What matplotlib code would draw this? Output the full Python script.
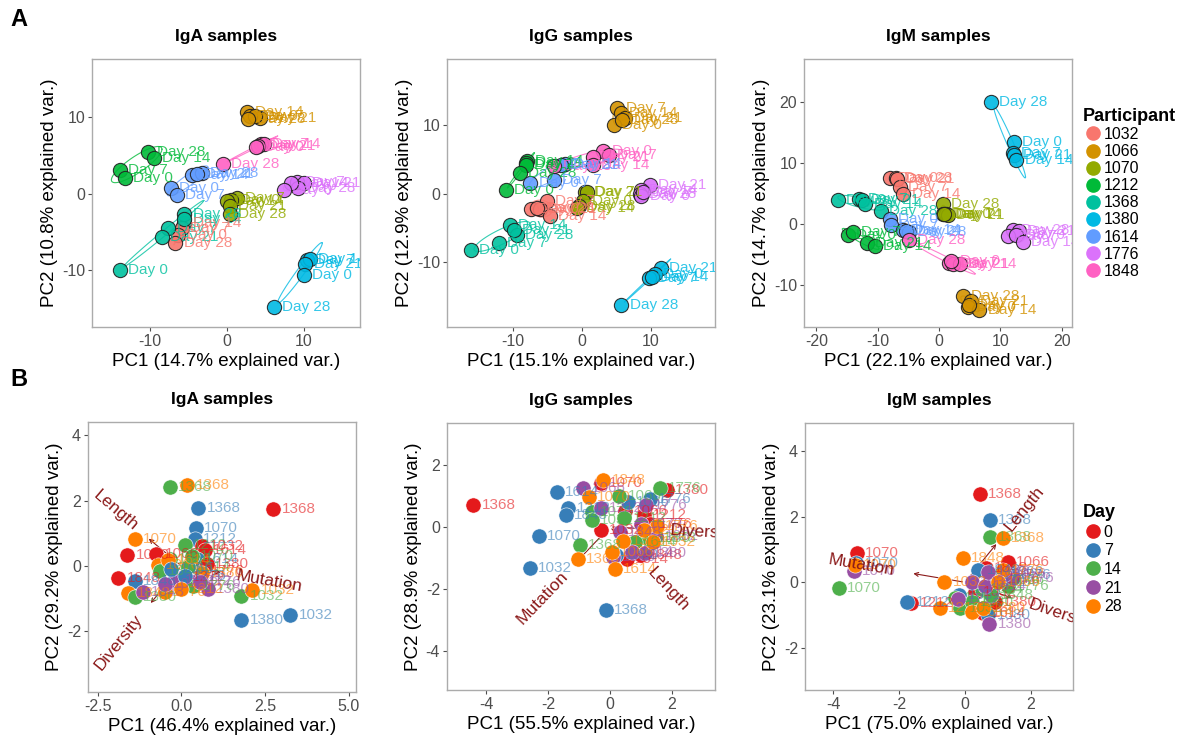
import numpy as np
import matplotlib
matplotlib.use("Agg")
import matplotlib.pyplot as plt
from matplotlib.lines import Line2D

plt.rcParams['font.family'] = ['Liberation Sans', 'DejaVu Sans']
plt.rcParams['axes.unicode_minus'] = False

participants = ['1032', '1066', '1070', '1212', '1368', '1380', '1614', '1776', '1848']
part_colors = ['#F8766D', '#D39200', '#93AA00', '#00BA38', '#00C19F',
               '#00B9E3', '#619CFF', '#DB72FB', '#FF61C3']
days = [0, 7, 14, 21, 28]
day_colors = ['#E41A1C', '#377EB8', '#4DAF4A', '#984EA3', '#FF7F00']

# ---- A: PCA of repertoire samples, coloured by participant ----
iga_part = ['1212'] * 4 + ['1066'] * 5 + ['1848'] * 5 + ['1614'] * 5 + ['1776'] * 5 + \
           ['1070'] * 5 + ['1368'] * 5 + ['1032'] * 4 + ['1380'] * 5
iga_day = [28, 14, 7, 0,  14, 21, 0, 7, 28,  28, 7, 14, 21, 0,  14, 28, 21, 0, 7,
           7, 21, 28, 14, 0,  7, 0, 14, 21, 28,  28, 14, 7, 21, 0,  14, 7, 0, 28,
           7, 14, 21, 0, 28]
iga_pc1 = [-10.2, -9.5, -13.9, -13.2,  2.6, 4.3, 3.0, 3.7, 2.8,  -0.5, 4.4, 4.8, 4.1, 3.8,
           -4.5, -3.2, -3.9, -7.3, -6.5,  9.1, 10.0, 9.3, 8.4, 7.4,  1.3, 0.6, 0.0, 0.4, 0.4,
           -5.5, -5.5, -7.6, -8.4, -13.9,  -5.5, -5.8, -6.3, -6.7,  10.4, 10.8, 10.2, 10.0, 6.1]
iga_pc2 = [5.5, 4.65, 3.1, 2.0,  10.7, 9.9, 10.1, 10.1, 9.8,  3.9, 6.5, 6.5, 6.3, 6.1,
           2.5, 2.7, 2.6, 0.7, -0.1,  1.6, 1.4, 0.7, 1.4, 0.5,  -0.6, -0.8, -1.0, -1.65, -2.7,
           -2.65, -3.3, -4.5, -5.6, -9.9,  -3.8, -4.5, -5.35, -6.4,  -8.6, -8.5, -9.2, -10.6, -14.8]

igg_part = ['1066'] * 5 + ['1848'] * 5 + ['1212'] * 5 + ['1614'] * 4 + ['1070'] * 5 + \
           ['1776'] * 5 + ['1032'] * 5 + ['1368'] * 5 + ['1380'] * 5
igg_day = [7, 14, 21, 0, 28,  0, 7, 21, 14, 28,  14, 21, 7, 28, 0,  0, 7, 14, 21,
           21, 7, 0, 28, 14,  21, 14, 28, 0, 7,  7, 0, 21, 14, 28,  14, 28, 21, 7, 0,
           21, 0, 7, 14, 28]
igg_pc1 = [5.1, 5.6, 6.3, 4.6, 5.8,  3.1, 3.9, 1.6, 1.6, -4.0,  -8.0, -8.1, -8.2, -9.0, -11.1,
           -7.5, -4.1, -2.5, -3.0,  0.5, 0.7, 0.2, -0.5, -0.7,  9.8, 8.5, 8.4, 8.6, 8.9,
           -5.1, -7.4, -6.1, -4.7, -6.5,  -10.5, -9.5, -9.9, -12.1, -16.1,  11.4, 10.6, 9.7, 10.1, 5.7]
igg_pc2 = [12.5, 11.8, 11.0, 10.1, 10.8,  6.2, 5.6, 5.4, 4.2, 4.0,  4.8, 4.5, 4.2, 3.0, 0.6,
           1.6, 2.0, 4.3, 4.2,  0.2, 0.3, -1.1, -1.8, -2.1,  1.3, 0.6, -0.1, -0.4, 0.2,
           -1.0, -2.2, -2.3, -3.3, -2.1,  -4.6, -6.0, -5.3, -7.2, -8.2,  -10.9, -11.8, -12.4, -12.2, -16.3]

igm_part = ['1380'] * 5 + ['1032'] * 5 + ['1368'] * 5 + ['1070'] * 5 + ['1614'] * 5 + \
           ['1848'] * 5 + ['1212'] * 4 + ['1776'] * 5 + ['1066'] * 5
igm_day = [28, 0, 7, 21, 14,  0, 28, 21, 7, 14,  0, 7, 21, 14, 28,  28, 0, 7, 21, 14,
           0, 7, 14, 28, 21,  28, 7, 21, 14, 0,  0, 7, 21, 14,  28, 21, 7, 0, 14,
           28, 21, 0, 14, 7]
igm_pc1 = [8.5, 12.2, 12.1, 12.3, 12.6,  -8.0, -7.0, -6.8, -6.4, -5.8,  -16.5, -13.0, -12.5, -12.0, -9.5,
           0.65, 0.65, 1.2, 1.5, 0.9,  -8.0, -7.8, -5.8, -4.8, -5.3,  -4.9, 1.7, 2.3, 3.4, 2.0,
           -14.8, -14.0, -11.8, -10.5,  12.1, 13.0, 11.3, 12.6, 13.7,  3.9, 5.3, 4.7, 6.6, 4.9]
igm_pc2 = [20.0, 13.4, 11.7, 11.3, 10.5,  7.6, 7.5, 7.4, 6.0, 4.9,  3.9, 4.2, 3.9, 3.3, 2.2,
           3.3, 1.6, 1.6, 1.5, 1.7,  0.9, -0.1, -1.0, -1.2, -1.1,  -2.6, -6.4, -6.5, -6.5, -6.0,
           -1.7, -1.2, -3.1, -3.6,  -0.9, -1.1, -2.0, -1.7, -2.9,  -11.8, -12.6, -13.5, -14.0, -13.2]

# ---- B: biplots of repertoire features, coloured by day ----
b_iga_day = [14, 28, 7, 0, 7, 28, 7, 0, 0, 14, 0, 0, 7, 28, 14, 14, 0, 7, 28, 14, 21, 28,
             21, 14, 28, 7, 7, 0, 0, 21, 14, 28, 0, 28, 7, 21, 14, 7, 14, 28, 21, 21]
b_iga_part = ['1368', '1368', '1368', '1368', '1070', '1070', '1212', '1070', '1066', '1212',
              '1032', '1614', '1614', '1066', '1066', '1848', '1848', '1848', '1848', '1380',
              '1848', '1776', '1380', '1032', '1032', '1380', '1032', '1212', '1776', '1066',
              '1614', '1614', '1380', '1380', '1066', '1212', '1776', '1776', '1070', '1212',
              '1070', '1776']
b_iga_pc1 = [-0.35, 0.18, 0.5, 2.74, 0.43, -1.39, 0.40, -1.62, -0.75, 0.10, 0.60, 0.70, 0.45,
             -0.70, -0.35, -0.65, -1.89, -1.39, -1.59, -1.39, -1.16, -0.50, 0.78, 1.79, 2.12,
             1.79, 3.25, 0.05, 0.63, -0.15, 0.20, -0.40, 0.75, 0.60, -0.30, 0.25, 0.35, 0.10,
             0.30, 0.00, -0.50, 0.55]
b_iga_pc2 = [2.42, 2.47, 1.79, 1.73, 1.17, 0.84, 0.84, 0.33, 0.38, 0.63, 0.62, 0.48, 0.22,
             0.02, 0.20, -0.16, -0.36, -0.47, -0.82, -0.95, -0.80, -0.80, -0.72, -0.93, -0.74,
             -1.66, -1.49, -0.34, -0.16, -0.44, -0.03, 0.17, 0.05, -0.20, -0.10, -0.45, -0.60,
             -0.30, 0.30, -0.70, -0.55, -0.50]
b_iga_vars = ['Length', 'Diversity', 'Mutation']
b_iga_load1 = [-1.04, -0.97, 1.26]
b_iga_load2 = [0.89, -1.20, -0.22]

b_igg_day = [0] * 9 + [7] * 9 + [14] * 9 + [21] * 9 + [28] * 9
b_igg_part = ['1368', '1070', '1032', '1614', '1212', '1380', '1848', '1066', '1776',
              '1614', '1212', '1848', '1070', '1032', '1368', '1066', '1776', '1380',
              '1368', '1070', '1032', '1212', '1776', '1380', '1848', '1614', '1066',
              '1066', '1848', '1368', '1776', '1380', '1614', '1070', '1212', '1032',
              '1368', '1848', '1070', '1380', '1066', '1614', '1776', '1212', '1032']
b_igg_pc1 = [-4.41, -0.29, -0.29, 0.54, 1.11, 1.83, 1.00, 0.50, 1.30,
             -1.72, -1.34, -1.43, -2.29, -2.58, -0.13, 0.57, 1.29, 0.20,
             -0.97, -0.59, -0.59, 0.46, 1.61, 1.24, 1.45, 0.80, 0.30,
             -0.86, 0.32, 0.11, 1.15, 1.13, 0.70, 1.00, -0.30, 1.50,
             -1.04, -0.22, -0.68, 0.43, 0.05, 0.16, 1.51, 1.10, 1.40]
b_igg_pc2 = [0.71, 1.41, -0.10, -1.03, 0.39, 1.19, -0.90, 0.50, 0.10,
             1.12, 0.62, 0.39, -0.31, -1.33, -2.68, 0.80, 0.90, -0.90,
             -0.58, 0.49, 0.23, 0.28, 1.27, -0.37, -0.37, -0.50, 1.00,
             1.25, -0.15, -0.96, 0.69, -0.85, -0.80, 0.10, 0.60, -0.30,
             -1.03, 1.52, 0.95, -0.47, -0.80, -1.35, 0.03, -0.10, -0.50]
b_igg_vars = ['Mutation', 'Length', 'Diversity']
b_igg_load1 = [-1.10, 0.99, 1.49]
b_igg_load2 = [-1.15, -1.07, -0.08]

b_igm_day = [0] * 9 + [7] * 9 + [14] * 9 + [21] * 8 + [28] * 9
b_igm_part = ['1368', '1070', '1066', '1848', '1212', '1614', '1776', '1032', '1380',
              '1368', '1848', '1212', '1032', '1380', '1776', '1614', '1066', '1070',
              '1368', '1070', '1212', '1032', '1066', '1614', '1848', '1776', '1380',
              '1070', '1032', '1380', '1776', '1614', '1066', '1212', '1848',
              '1368', '1070', '1848', '1032', '1212', '1614', '1380', '1776', '1066']
b_igm_pc1 = [0.45, -3.28, 1.30, 0.63, -1.63, 0.55, 1.00, 0.30, 0.90,
             0.75, 0.40, -1.75, -0.17, 0.70, 1.35, 0.90, 1.10, -3.30,
             0.75, -3.83, -0.30, -0.15, 1.15, 0.50, 0.80, 1.30, 0.20,
             -3.37, 0.20, 0.73, 1.45, 0.60, 1.20, -0.20, 0.70,
             1.15, -3.35, -0.07, -0.63, -0.77, 0.20, 0.55, 1.15, 1.00]
b_igm_pc2 = [2.69, 0.90, 0.63, 0.43, -0.64, -0.95, 0.10, -0.30, -0.60,
             1.90, 0.38, -0.59, -0.39, -1.00, 0.22, 0.00, 0.30, 0.60,
             1.39, -0.18, -0.47, -0.77, 0.07, -0.20, -0.40, -0.10, -0.60,
             0.33, 0.02, -1.28, 0.12, -0.10, 0.25, -0.50, 0.30,
             1.36, 0.53, 0.73, 0.02, -0.77, -0.89, -0.79, 0.38, 0.00]
b_igm_vars = ['Mutation', 'Length', 'Diversity']
b_igm_load1 = [-1.65, 1.00, 1.50]
b_igm_load2 = [0.28, 1.23, -0.50]

tick_gray = '#4D4D4D'
arrow_red = '#8B1A1A'


def style_axes(ax, xlim, ylim, xticks, yticks, xlabels=None):
	ax.set_xlim(xlim)
	ax.set_ylim(ylim)
	ax.set_xticks(xticks)
	ax.set_yticks(yticks)
	if xlabels is not None:
		ax.set_xticklabels(xlabels)
	for s in ax.spines.values():
		s.set_color('#ABABAB')
		s.set_linewidth(1.0)
	ax.tick_params(direction='out', length=3, width=0.8, color=tick_gray,
				   labelsize=11.5, labelcolor=tick_gray, pad=2)


def ellipse(x, y, prob_r=1.51, n=100):
	# same construction as ggbiplot: circle %*% chol(cov) * r + mean
	pts = np.column_stack([x, y])
	sigma = np.cov(pts, rowvar=False)
	L = np.linalg.cholesky(sigma + np.eye(2) * 1e-9)
	t = np.linspace(0, 2 * np.pi, n)
	circ = np.column_stack([np.cos(t), np.sin(t)])
	return circ @ L.T * prob_r + pts.mean(axis=0)


def plot_pca(ax, part, day, pc1, pc2, title, xlab, ylab):
	part = np.array(part)
	pc1 = np.array(pc1)
	pc2 = np.array(pc2)
	for p, c in zip(participants, part_colors):
		m = part == p
		if m.sum() < 3:
			continue
		e = ellipse(pc1[m], pc2[m])
		ax.plot(e[:, 0], e[:, 1], color=c, lw=0.8, alpha=0.8, zorder=2)
	for p, c in zip(participants, part_colors):
		m = part == p
		ax.scatter(pc1[m], pc2[m], s=105, color=c, edgecolor='#222222', linewidth=0.8,
				   alpha=0.9, zorder=3)
	for p, d, x, y in zip(part, day, pc1, pc2):
		c = part_colors[participants.index(p)]
		ax.annotate('Day %d' % d, (x, y), xytext=(6, 0), textcoords='offset points',
					va='center', ha='left', fontsize=11, color=c, alpha=0.8,
					zorder=4, annotation_clip=True, clip_on=True)
	ax.set_title(title, fontsize=12.5, fontweight='bold', pad=13)
	ax.set_xlabel(xlab, fontsize=13.5, labelpad=3)
	ax.set_ylabel(ylab, fontsize=13.5, labelpad=3)


def plot_biplot(ax, part, day, pc1, pc2, varnames, l1, l2, title, xlab, ylab):
	for p, d, x, y in zip(part, day, pc1, pc2):
		c = day_colors[days.index(d)]
		ax.scatter([x], [y], s=120, color=c, edgecolor='white', linewidth=0.4, zorder=3)
	for v, a, b in zip(varnames, l1, l2):
		ax.annotate('', xy=(a, b), xytext=(0, 0),
					arrowprops=dict(arrowstyle='->', color=arrow_red, lw=0.8,
									mutation_scale=7), zorder=2)
		ang = np.degrees(np.arctan(b / a))
		ha = 'left' if a > 0 else 'right'
		t = ax.text(a * 1.3, b * 1.3, v, rotation=ang, rotation_mode='anchor',
					ha=ha, va='center', fontsize=12.5, color=arrow_red, zorder=5)
		t.set_clip_on(True)
	for p, d, x, y in zip(part, day, pc1, pc2):
		c = day_colors[days.index(d)]
		ax.annotate(p, (x, y), xytext=(6, 0), textcoords='offset points',
					va='center', ha='left', fontsize=11, color=c, alpha=0.6,
					zorder=4, annotation_clip=True, clip_on=True)
	ax.set_title(title, fontsize=12.5, fontweight='bold', pad=13)
	ax.set_xlabel(xlab, fontsize=13.5, labelpad=3)
	ax.set_ylabel(ylab, fontsize=13.5, labelpad=3)


def box(l, t, w=268, h=268):
	return [l / 1200, 1 - (t + h) / 740, w / 1200, h / 740]


fig = plt.figure(figsize=(12, 7.4), dpi=100)

ax1 = fig.add_axes(box(92, 59))
plot_pca(ax1, iga_part, iga_day, iga_pc1, iga_pc2, 'IgA samples',
		 'PC1 (14.7% explained var.)', 'PC2 (10.8% explained var.)')
style_axes(ax1, (-17.5, 17.3), (-17.4, 17.6), [-10, 0, 10], [-10, 0, 10])

ax2 = fig.add_axes(box(447, 59))
plot_pca(ax2, igg_part, igg_day, igg_pc1, igg_pc2, 'IgG samples',
		 'PC1 (15.1% explained var.)', 'PC2 (12.9% explained var.)')
style_axes(ax2, (-19.6, 19.3), (-19.5, 19.7), [-10, 0, 10], [-10, 0, 10])

ax3 = fig.add_axes(box(804, 59))
plot_pca(ax3, igm_part, igm_day, igm_pc1, igm_pc2, 'IgM samples',
		 'PC1 (22.1% explained var.)', 'PC2 (14.7% explained var.)')
style_axes(ax3, (-22.0, 21.7), (-16.8, 27.0), [-20, -10, 0, 10, 20], [-10, 0, 10, 20])

ax4 = fig.add_axes(box(88, 422, 268, 270))
plot_biplot(ax4, b_iga_part, b_iga_day, b_iga_pc1, b_iga_pc2, b_iga_vars, b_iga_load1,
			b_iga_load2, 'IgA samples', 'PC1 (46.4% explained var.)', 'PC2 (29.2% explained var.)')
style_axes(ax4, (-2.79, 5.21), (-3.86, 4.41), [-2.5, 0, 2.5, 5.0], [-2, 0, 2, 4],
		   ['-2.5', '0.0', '2.5', '5.0'])

ax5 = fig.add_axes(box(447, 423, 268, 267))
plot_biplot(ax5, b_igg_part, b_igg_day, b_igg_pc1, b_igg_pc2, b_igg_vars, b_igg_load1,
			b_igg_load2, 'IgG samples', 'PC1 (55.5% explained var.)', 'PC2 (28.9% explained var.)')
style_axes(ax5, (-5.26, 3.39), (-5.26, 3.35), [-4, -2, 0, 2], [-4, -2, 0, 2])

ax6 = fig.add_axes(box(805, 423, 268, 267))
plot_biplot(ax6, b_igm_part, b_igm_day, b_igm_pc1, b_igm_pc2, b_igm_vars, b_igm_load1,
			b_igm_load2, 'IgM samples', 'PC1 (75.0% explained var.)', 'PC2 (23.1% explained var.)')
style_axes(ax6, (-4.85, 3.27), (-3.28, 4.85), [-4, -2, 0, 2], [-2, 0, 2, 4])

#create legends
handles = [Line2D([0], [0], marker='o', ls='', markersize=9.5, markerfacecolor=c,
				  markeredgecolor=c) for c in part_colors]
fig.legend(handles, participants, title='Participant', loc='upper left',
		   bbox_to_anchor=(1083 / 1200, 1 - 108 / 740), frameon=False,
		   fontsize=11.5, handletextpad=0.1, labelspacing=0.13, handlelength=1.2,
		   borderaxespad=0, borderpad=0,
		   title_fontproperties={'weight': 'bold', 'size': 13}, alignment='left')

handles = [Line2D([0], [0], marker='o', ls='', markersize=9.5, markerfacecolor=c,
				  markeredgecolor=c) for c in day_colors]
fig.legend(handles, [str(d) for d in days], title='Day', loc='upper left',
		   bbox_to_anchor=(1083 / 1200, 1 - 504 / 740), frameon=False,
		   fontsize=11.5, handletextpad=0.1, labelspacing=0.23, handlelength=1.2,
		   borderaxespad=0, borderpad=0,
		   title_fontproperties={'weight': 'bold', 'size': 13}, alignment='left')

fig.text(10 / 1200, 1 - 20 / 740, 'A', fontsize=17, fontweight='bold', va='center')
fig.text(10 / 1200, 1 - 380 / 740, 'B', fontsize=17, fontweight='bold', va='center')

fig.savefig('out.png', dpi=100)
plt.close()
